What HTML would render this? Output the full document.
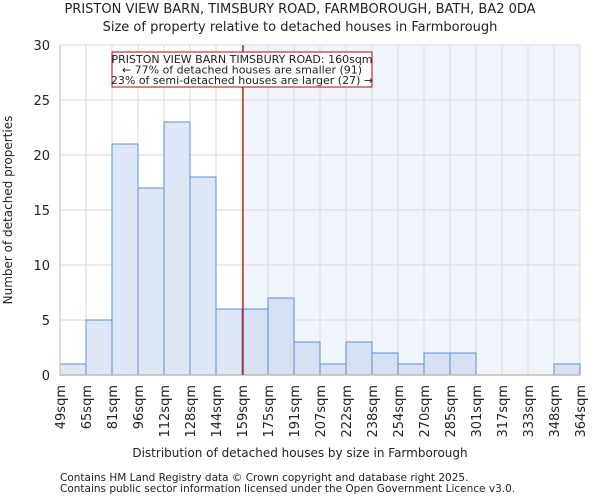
<!DOCTYPE html>
<html><head><meta charset="utf-8"><style>
body{margin:0;background:#fff;font-family:"DejaVu Sans","Liberation Sans",sans-serif;}
svg text{font-family:"DejaVu Sans","Liberation Sans",sans-serif;fill:#222;}
</style></head><body>
<svg id="chart" width="600" height="500" viewBox="0 0 600 500">
<text x="300" y="13" text-anchor="middle" font-size="13">PRISTON VIEW BARN, TIMSBURY ROAD, FARMBOROUGH, BATH, BA2 0DA</text>
<text x="300" y="31" text-anchor="middle" font-size="13">Size of property relative to detached houses in Farmborough</text>
<g id="plot"></g>
<text x="300" y="457" text-anchor="middle" font-size="12">Distribution of detached houses by size in Farmborough</text>
<text transform="translate(12,210) rotate(-90)" text-anchor="middle" font-size="12">Number of detached properties</text>
<text x="60" y="481" font-size="10.5">Contains HM Land Registry data © Crown copyright and database right 2025.</text>
<text x="60" y="492" font-size="10.5">Contains public sector information licensed under the Open Government Licence v3.0.</text>
</svg>
<script>
const categories=["49sqm","65sqm","81sqm","96sqm","112sqm","128sqm","144sqm","159sqm","175sqm","191sqm","207sqm","222sqm","238sqm","254sqm","270sqm","285sqm","301sqm","317sqm","333sqm","348sqm","364sqm"];
const counts=[1,5,21,17,23,18,6,6,7,3,1,3,2,1,2,2,0,0,0,1];
const yTicks=[0,5,10,15,20,25,30];
const markerIndex=7;
const NS="http://www.w3.org/2000/svg";
const g=document.getElementById('plot');
const L=60,R=580,T=45,B=375,yMax=30;
const bw=(R-L)/counts.length;
const xs=i=>L+i*bw;
const ys=v=>B-(v/yMax)*(B-T);
function mk(t,a){const e=document.createElementNS(NS,t);for(const k in a)e.setAttribute(k,a[k]);g.appendChild(e);return e;}
let e;
e=mk('rect',{x:xs(markerIndex),y:T,width:R-xs(markerIndex),height:B-T,fill:'#f0f4fb'});


yTicks.forEach(v=>{
 e=mk('line',{x1:L,x2:R,y1:ys(v),y2:ys(v),stroke:'#dadada'});
 
 
 e=mk('text',{x:L-10,y:ys(v)+5,'text-anchor':'end','font-size':13});
 e.textContent=v;
 
 
});
categories.forEach((c,i)=>{
 e=mk('line',{x1:xs(i),x2:xs(i),y1:T,y2:B,stroke:'#dadada'});
 
 
 const x=xs(i);
 e=mk('text',{transform:`translate(${x+5},${B+10}) rotate(-90)`,'text-anchor':'end','font-size':13});
 e.textContent=c;
 
 
});
counts.forEach((v,i)=>{
 if(v<=0)return;
 e=mk('rect',{x:xs(i),y:ys(v),width:bw,height:B-ys(v),fill:i>=markerIndex?'#d6e2f3':'#dde7f5',stroke:'#5b8fd6','stroke-width':1});
 
 
});
e=mk('line',{x1:L,x2:L,y1:T,y2:B,stroke:'#bbb'});


e=mk('line',{x1:L,x2:R,y1:B,y2:B,stroke:'#bbb','stroke-width':1.5});


e=mk('line',{x1:xs(markerIndex)+1,x2:xs(markerIndex)+1,y1:T,y2:B,stroke:'#aa0000','stroke-width':1.2});


e=mk('rect',{x:112,y:52,width:260,height:35,fill:'#fff',stroke:'#cc0000'});


["PRISTON VIEW BARN TIMSBURY ROAD: 160sqm","← 77% of detached houses are smaller (91)","23% of semi-detached houses are larger (27) →"].forEach((s,k)=>{
 e=mk('text',{x:242,y:63+k*10.5,'text-anchor':'middle','font-size':11});
 e.textContent=s;
 
 
});
</script>
</body></html>
